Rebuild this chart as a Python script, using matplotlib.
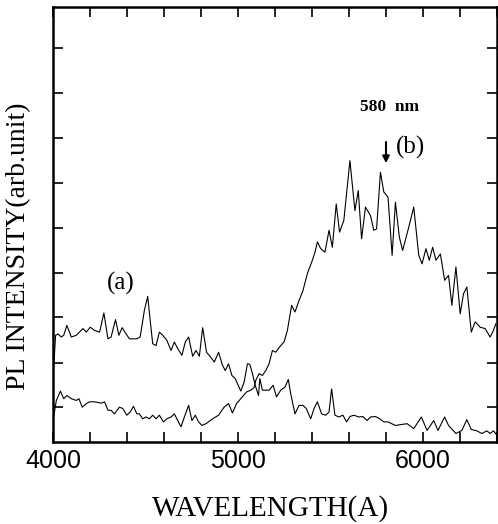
import numpy as np
import matplotlib.pyplot as plt
from matplotlib.ticker import MultipleLocator, FixedLocator

# spectrum (a): strong in the blue, falls off past 5000 A
wl_a = [4005, 4014, 4027, 4045, 4058, 4075, 4099, 4126, 4162, 4180, 4201, 4225,
        4252, 4275, 4297, 4314, 4338, 4356, 4374, 4395, 4413, 4431, 4453, 4471,
        4494, 4512, 4530, 4539, 4557, 4575, 4593, 4615, 4638, 4656, 4674, 4697,
        4715, 4733, 4755, 4773, 4791, 4809, 4830, 4854, 4872, 4895, 4916, 4931,
        4949, 4967, 4985, 5015, 5033, 5051, 5064, 5078, 5093, 5111, 5118, 5132,
        5168, 5190, 5208, 5231, 5254, 5272, 5285, 5308, 5330, 5351, 5369, 5393,
        5411, 5429, 5452, 5474, 5492, 5506, 5524, 5545, 5567, 5587, 5605, 5626,
        5653, 5675, 5698, 5716, 5743, 5766, 5788, 5811, 5851, 5880, 5914, 5950,
        5991, 6022, 6058, 6081, 6117, 6138, 6178, 6210, 6237, 6261, 6291, 6318,
        6345, 6363, 6381, 6400]
pl_a = [175, 239, 242, 235, 239, 261, 235, 239, 254, 246, 257, 250,
        246, 289, 231, 235, 274, 239, 256, 242, 231, 231, 231, 235,
        295, 326, 254, 220, 216, 246, 239, 228, 205, 224, 209, 194,
        224, 235, 192, 205, 192, 256, 201, 189, 179, 201, 172, 160,
        175, 149, 142, 114, 134, 175, 174, 153, 127, 104, 142, 116,
        116, 127, 101, 116, 123, 140, 108, 63, 82, 82, 75, 52,
        75, 90, 63, 60, 67, 119, 60, 56, 60, 45, 57, 60,
        56, 57, 48, 56, 57, 52, 45, 45, 37, 39, 41, 30,
        56, 26, 48, 26, 56, 37, 19, 26, 50, 28, 25, 19,
        25, 19, 25, 15]

# spectrum (b): weak in the blue, broad band peaking near 5800 A
wl_b = [4005, 4018, 4040, 4058, 4075, 4099, 4126, 4140, 4158, 4180, 4198, 4225,
        4261, 4279, 4297, 4314, 4332, 4359, 4377, 4399, 4417, 4435, 4453, 4467,
        4485, 4503, 4521, 4539, 4557, 4575, 4597, 4615, 4638, 4656, 4674, 4692,
        4710, 4733, 4751, 4769, 4787, 4805, 4827, 4863, 4895, 4925, 4949, 4970,
        4992, 5015, 5046, 5069, 5087, 5096, 5114, 5132, 5150, 5168, 5186, 5204,
        5231, 5249, 5267, 5290, 5308, 5330, 5351, 5375, 5402, 5416, 5429, 5447,
        5470, 5492, 5510, 5531, 5549, 5572, 5605, 5632, 5650, 5668, 5689, 5716,
        5734, 5749, 5770, 5788, 5811, 5833, 5851, 5872, 5890, 5923, 5950, 5977,
        5995, 6016, 6034, 6052, 6070, 6094, 6117, 6138, 6156, 6178, 6201, 6219,
        6237, 6261, 6282, 6309, 6336, 6363, 6381, 6394]
pl_b = [60, 93, 114, 97, 104, 97, 93, 97, 78, 86, 90, 90,
        87, 90, 71, 71, 63, 78, 75, 60, 67, 80, 63, 63,
        52, 56, 52, 60, 52, 60, 45, 52, 56, 63, 48, 34,
        56, 82, 48, 60, 45, 37, 41, 52, 60, 78, 86, 65,
        86, 97, 112, 116, 122, 138, 153, 149, 160, 175, 205, 201,
        216, 224, 250, 306, 291, 317, 339, 377, 407, 425, 448, 433,
        425, 474, 436, 533, 470, 496, 630, 518, 563, 455, 526, 507,
        474, 477, 604, 560, 548, 418, 537, 459, 429, 481, 526, 418,
        399, 433, 407, 436, 407, 421, 362, 373, 306, 392, 287, 332,
        347, 246, 269, 257, 254, 235, 250, 265]

y_ticks = [78, 178, 279, 379, 480, 580, 681, 781, 882]

serif = ['Liberation Serif', 'DejaVu Serif']
sans = ['Liberation Sans', 'DejaVu Sans']

fig = plt.figure(figsize=(4.98, 5.24), dpi=100)
ax = fig.add_axes([53/498, 1 - 442/524, 444/498, 435/524])

ax.plot(wl_a, pl_a, color='black', lw=0.8)
ax.plot(wl_b, pl_b, color='black', lw=0.8)

ax.set_xlim(4000, 6400)
ax.set_ylim(0, 974)

ax.xaxis.set_major_locator(FixedLocator([4000, 5000, 6000]))
ax.xaxis.set_minor_locator(MultipleLocator(200))
ax.yaxis.set_major_locator(FixedLocator(y_ticks))
ax.set_yticklabels([])
ax.tick_params(which='both', direction='in', top=True, right=True,
               length=7, width=1.2)
ax.tick_params(axis='y', which='both', right=True, labelleft=False)
for lbl in ax.get_xticklabels():
    lbl.set_family(sans)
    lbl.set_fontsize(18)
ax.tick_params(axis='x', pad=5)

for sp in ax.spines.values():
    sp.set_linewidth(1.8)

ax.set_xlabel('WAVELENGTH(A)', family=serif, fontsize=21)
ax.xaxis.set_label_coords(0.489, -0.152)
ax.xaxis.label.set_va('center')
ax.set_ylabel('PL INTENSITY(arb.unit)', family=serif, fontsize=20)
ax.yaxis.set_label_coords(-0.077, 0.45)
ax.yaxis.label.set_va('center')

ax.text(4364, 355, '(a)', family=serif, fontsize=18, ha='center', va='center')
ax.text(5934, 660, '(b)', family=serif, fontsize=18, ha='center', va='center')
ax.text(5821, 751, '580  nm', family=serif, fontsize=12.5, fontweight='bold',
        ha='center', va='center')
ax.annotate('', xy=(5800, 618), xytext=(5800, 678),
            arrowprops=dict(arrowstyle='-|>', color='black', lw=1.5,
                            mutation_scale=10))

fig.savefig('out.png', dpi=100)
